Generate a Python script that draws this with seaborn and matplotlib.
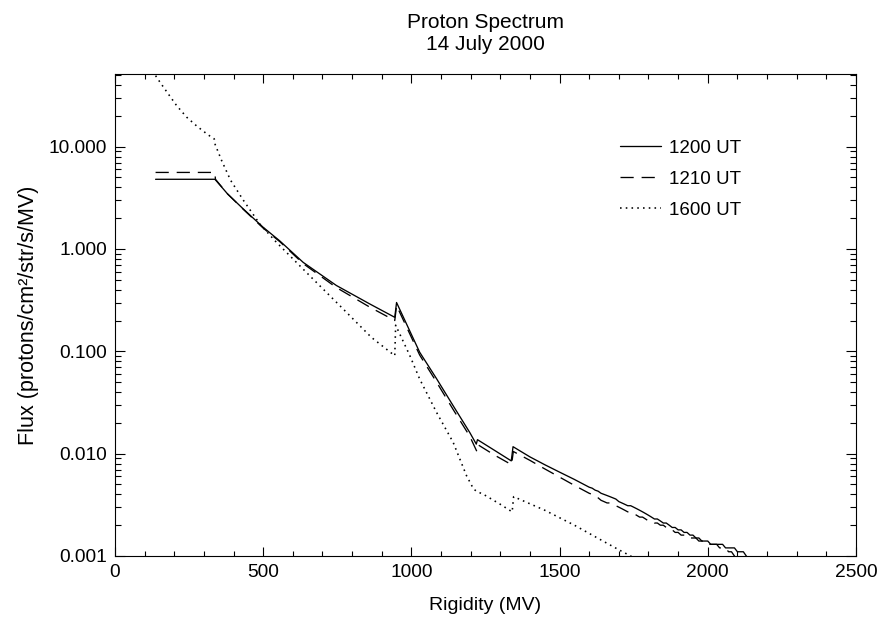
import numpy as np
import pandas as pd
import matplotlib
matplotlib.use("Agg")
import matplotlib.pyplot as plt
import seaborn as sns
from matplotlib.ticker import MultipleLocator, LogLocator, FuncFormatter, NullFormatter

# ---------------- data ----------------
tail_x = [1600, 1610, 1620, 1630, 1640, 1650, 1660, 1670, 1680, 1690,
          1700, 1710, 1720, 1730, 1740, 1750, 1760, 1770, 1780, 1790,
          1800, 1810, 1820, 1830, 1840, 1850, 1860, 1870, 1880, 1890,
          1900, 1910, 1920, 1930, 1940, 1950, 1960, 1970, 1980, 1990,
          2000, 2010, 2020, 2030, 2040, 2050, 2060, 2070, 2080, 2090,
          2100, 2110, 2120, 2130, 2140]

rig_1200 = [137, 337, 340, 380, 433, 500, 556, 635, 747, 860, 944,
            950, 1028, 1085, 1141, 1197, 1219,
            1223, 1280, 1337,
            1343, 1400, 1450, 1500, 1550] + tail_x
flux_1200 = [4.8, 4.8, 4.7, 3.45, 2.46, 1.63, 1.2, 0.74, 0.44, 0.29, 0.215,
             0.30, 0.098, 0.054, 0.0294, 0.0161, 0.0124,
             0.0137, 0.0108, 0.0085,
             0.0117, 0.0093, 0.0078, 0.0066, 0.0056,
             0.0047, 0.0046, 0.0044, 0.0043, 0.0041, 0.0040, 0.0039, 0.0038, 0.0037, 0.0036,
             0.0034, 0.0033, 0.0032, 0.0031, 0.0031, 0.0030, 0.0029, 0.0028, 0.0027, 0.0026,
             0.0025, 0.0024, 0.0023, 0.0023, 0.0022, 0.0021, 0.0021, 0.0020, 0.0019, 0.0019,
             0.0018, 0.0018, 0.0017, 0.0017, 0.0016, 0.0016, 0.0015, 0.0015, 0.0014, 0.0014,
             0.0014, 0.0013, 0.0013, 0.0013, 0.0013, 0.0013, 0.0012, 0.0012, 0.0012, 0.0012,
             0.0011, 0.0011, 0.0011, 0.0010, 0.0009]

rig_1210 = [137, 337, 339, 380, 433, 500, 556, 635, 747, 860, 944,
            950, 1028, 1085, 1141, 1197, 1221,
            1225, 1280, 1338,
            1344, 1400, 1450, 1500, 1550] + tail_x[:51]
flux_1210 = [5.6, 5.6, 4.8, 3.45, 2.44, 1.6, 1.18, 0.72, 0.42, 0.27, 0.20,
             0.28, 0.092, 0.050, 0.027, 0.0148, 0.0105,
             0.0122, 0.0097, 0.0078,
             0.0105, 0.0086, 0.0071, 0.0059, 0.0049,
             0.0041, 0.0040, 0.0038, 0.0037, 0.0035, 0.0034, 0.0033, 0.0033, 0.0032, 0.0031,
             0.0030, 0.0029, 0.0028, 0.0027, 0.0027, 0.0026, 0.0025, 0.0024, 0.0024, 0.0023,
             0.0022, 0.0022, 0.0021, 0.0021, 0.0020, 0.0020, 0.0019, 0.0019, 0.0018, 0.0017,
             0.0017, 0.0016, 0.0016, 0.0016, 0.0015, 0.0015, 0.0015, 0.0014, 0.0014, 0.0014,
             0.0013, 0.0013, 0.0013, 0.0013, 0.0012, 0.0012, 0.0012, 0.0011, 0.0011, 0.0010,
             0.0009]

rig_1600 = [137, 152, 180, 208, 242, 277, 315, 335,
            338, 360, 390, 433, 489, 545, 657, 770, 865, 944,
            947, 995, 1028, 1085, 1141, 1186, 1210, 1220, 1250, 1300, 1340,
            1345, 1450, 1550, 1635, 1700, 1740, 1760]
flux_1600 = [49.4, 42.6, 32.7, 25.2, 19.4, 15.8, 13.0, 11.9,
             10.5, 7.3, 4.7, 3.0, 1.75, 1.16, 0.548, 0.259, 0.137, 0.0906,
             0.18, 0.0906, 0.0536, 0.0253, 0.0129, 0.0061, 0.0045, 0.0043, 0.0039, 0.0032, 0.0027,
             0.0038, 0.0028, 0.0020, 0.00146, 0.00115, 0.00100, 0.0009]

labels = ["1200 UT", "1210 UT", "1600 UT"]
xticks = [0, 500, 1000, 1500, 2000, 2500]

# ---------------- plot ----------------
sns.set_style("ticks")
plt.rcParams['font.family'] = ['Liberation Sans', 'DejaVu Sans']
plt.rcParams['axes.linewidth'] = 0.8
for k in ['text.color', 'axes.labelcolor', 'xtick.color', 'ytick.color', 'axes.edgecolor']:
    plt.rcParams[k] = 'black'

fig = plt.figure(figsize=(8.79, 6.28), dpi=100)
ax = fig.add_axes([0.1308, 0.11465, 0.8430, 0.76752])

styles = ["-", (0, (10, 6)), (0, (1, 2.6))]
widths = [0.95, 0.95, 1.15]
series = [(rig_1200, flux_1200), (rig_1210, flux_1210), (rig_1600, flux_1600)]
for (xs, ys), lab, ls, lw in zip(series, labels, styles, widths):
    df = pd.DataFrame({"Rigidity": xs, "Flux": ys})
    sns.lineplot(data=df, x="Rigidity", y="Flux", ax=ax, color="black",
                 linewidth=lw, linestyle=ls, label=lab,
                 estimator=None, sort=False)

ax.set_yscale("log")
ax.set_xlim(0, 2500)
ax.set_ylim(0.001, 51.3)
ax.set_xticks(xticks)
ax.xaxis.set_minor_locator(MultipleLocator(100))
ax.yaxis.set_major_locator(LogLocator(base=10, numticks=20))
ax.yaxis.set_minor_locator(LogLocator(base=10, subs=np.arange(2, 10), numticks=20))
ax.yaxis.set_major_formatter(FuncFormatter(lambda v, p: f"{v:.3f}"))
ax.yaxis.set_minor_formatter(NullFormatter())

ax.tick_params(axis="both", which="both", direction="in", top=True, right=True,
               width=0.8, color="black", labelcolor="black", labelsize=13.8)
ax.tick_params(axis="x", which="major", length=6.8, pad=6)
ax.tick_params(axis="x", which="minor", length=3.6)
ax.tick_params(axis="y", which="major", length=7.2, pad=5.5)
ax.tick_params(axis="y", which="minor", length=4.3)

ax.set_xlabel("Rigidity (MV)", fontsize=14, labelpad=11, color="black")
ax.set_ylabel("Flux (protons/cm²/str/s/MV)", fontsize=15.5, labelpad=7, color="black")
ax.set_title("Proton Spectrum\n14 July 2000", fontsize=15, pad=17, linespacing=1.2,
             color="black")

leg = ax.legend(loc="upper left", bbox_to_anchor=(0.6815, 0.8635), frameon=False,
                handlelength=2.2, handletextpad=0.4, labelspacing=0.74,
                borderpad=0, borderaxespad=0, fontsize=13.5)
for t in leg.get_texts():
    t.set_color("black")

for s in ax.spines.values():
    s.set_color("black")

fig.savefig("out.png", dpi=100, facecolor="white")
